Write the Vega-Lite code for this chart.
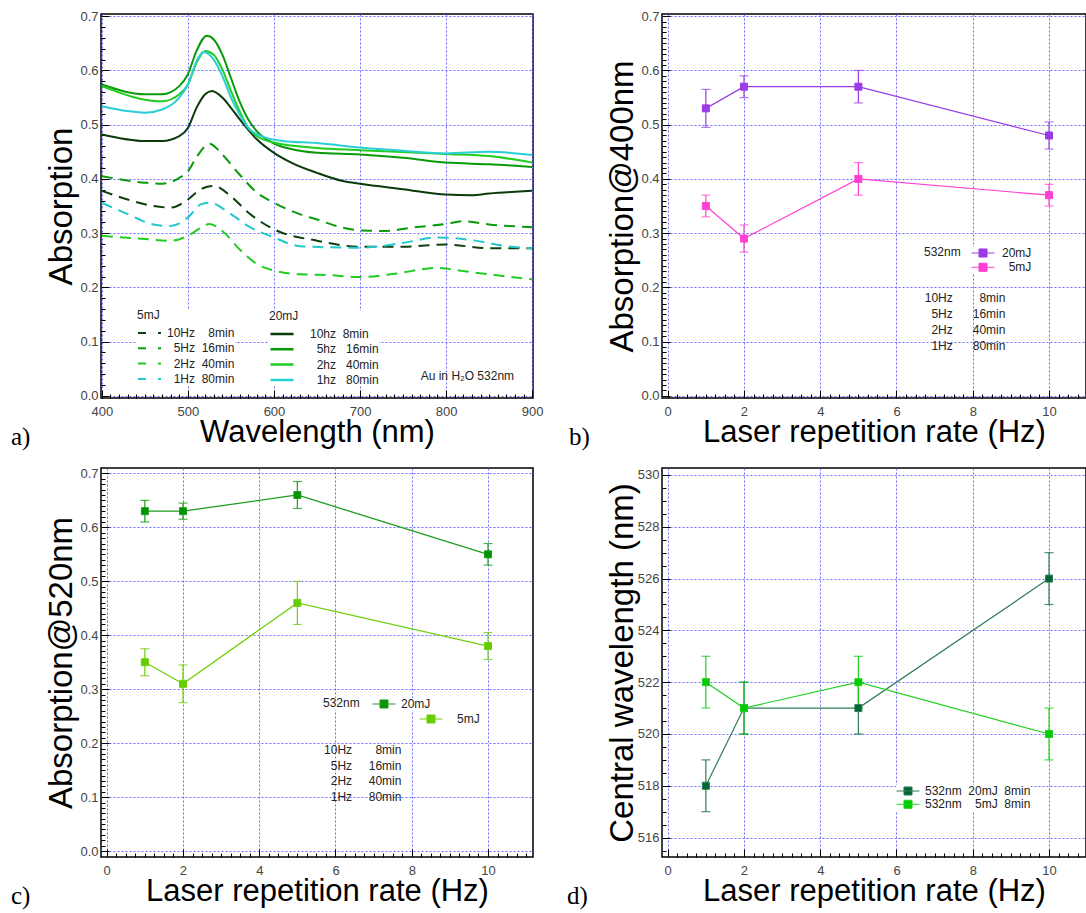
{
"$schema": "https://vega.github.io/schema/vega-lite/v6.json",
"background": "white",
"padding": {"left": 10, "top": 9, "right": 0, "bottom": 0},
"columns": 2,
"spacing": {"row": 70, "column": 129},
"bounds": "flush",
"resolve": {"scale": {"color": "independent", "fill": "independent", "stroke": "independent"}, "legend": {"color": "independent", "fill": "independent", "stroke": "independent"}},
"config": {
  "font": "Liberation Sans",
  "view": {"stroke": "#000", "strokeWidth": 1.5},
  "axis": {"domain": false, "grid": true, "gridColor": "#6b6bff", "gridDash": [2, 2], "gridWidth": 1, "labelFont": "Liberation Sans", "labelFontSize": 13, "labelColor": "#444", "titleFont": "Liberation Sans", "titleFontWeight": "normal", "titleColor": "#000", "tickColor": "#000", "tickWidth": 1, "labelOverlap": false, "labelFlush": false, "labelBound": false, "tickCount": 1000},
  "axisX": {"titleFontSize": 31, "titleBaseline": "alphabetic", "titleY": 43, "labelPadding": 15},
  "axisY": {"titleFontSize": 33, "titleAngle": 270, "titleAlign": "center", "titleBaseline": "middle", "titleX": -40, "labelPadding": 11},
  "legend": {"labelFont": "Liberation Sans", "labelFontSize": 12, "labelColor": "#222", "titleFont": "Liberation Sans", "titleFontSize": 12, "titleFontWeight": "normal", "titleColor": "#222", "padding": 0, "orient": "none"},
  "title": {"font": "Liberation Serif", "fontSize": 25, "fontWeight": "normal", "color": "#000"}
},
"concat": [
{
  "width": 432, "height": 384,
  "title": {"text": "a)", "orient": "bottom", "anchor": "start", "frame": "group", "dx": -90, "offset": -22},
  "data": {"values": [
    {"mJ":5,"rate":"10Hz","nm":400,"abs":0.378},{"mJ":5,"rate":"10Hz","nm":430,"abs":0.362},{"mJ":5,"rate":"10Hz","nm":460,"abs":0.350},{"mJ":5,"rate":"10Hz","nm":480,"abs":0.347},{"mJ":5,"rate":"10Hz","nm":500,"abs":0.362},{"mJ":5,"rate":"10Hz","nm":515,"abs":0.381},{"mJ":5,"rate":"10Hz","nm":530,"abs":0.387},{"mJ":5,"rate":"10Hz","nm":550,"abs":0.368},{"mJ":5,"rate":"10Hz","nm":570,"abs":0.338},{"mJ":5,"rate":"10Hz","nm":600,"abs":0.307},{"mJ":5,"rate":"10Hz","nm":650,"abs":0.286},{"mJ":5,"rate":"10Hz","nm":700,"abs":0.275},{"mJ":5,"rate":"10Hz","nm":750,"abs":0.275},{"mJ":5,"rate":"10Hz","nm":800,"abs":0.279},{"mJ":5,"rate":"10Hz","nm":850,"abs":0.272},{"mJ":5,"rate":"10Hz","nm":900,"abs":0.272},
    {"mJ":5,"rate":"5Hz","nm":400,"abs":0.405},{"mJ":5,"rate":"5Hz","nm":450,"abs":0.393},{"mJ":5,"rate":"5Hz","nm":470,"abs":0.391},{"mJ":5,"rate":"5Hz","nm":490,"abs":0.402},{"mJ":5,"rate":"5Hz","nm":500,"abs":0.414},{"mJ":5,"rate":"5Hz","nm":510,"abs":0.440},{"mJ":5,"rate":"5Hz","nm":525,"abs":0.465},{"mJ":5,"rate":"5Hz","nm":540,"abs":0.445},{"mJ":5,"rate":"5Hz","nm":560,"abs":0.408},{"mJ":5,"rate":"5Hz","nm":580,"abs":0.375},{"mJ":5,"rate":"5Hz","nm":600,"abs":0.356},{"mJ":5,"rate":"5Hz","nm":630,"abs":0.335},{"mJ":5,"rate":"5Hz","nm":650,"abs":0.325},{"mJ":5,"rate":"5Hz","nm":680,"abs":0.310},{"mJ":5,"rate":"5Hz","nm":700,"abs":0.305},{"mJ":5,"rate":"5Hz","nm":730,"abs":0.304},{"mJ":5,"rate":"5Hz","nm":760,"abs":0.310},{"mJ":5,"rate":"5Hz","nm":800,"abs":0.317},{"mJ":5,"rate":"5Hz","nm":820,"abs":0.322},{"mJ":5,"rate":"5Hz","nm":850,"abs":0.316},{"mJ":5,"rate":"5Hz","nm":900,"abs":0.311},
    {"mJ":5,"rate":"2Hz","nm":400,"abs":0.295},{"mJ":5,"rate":"2Hz","nm":450,"abs":0.289},{"mJ":5,"rate":"2Hz","nm":480,"abs":0.286},{"mJ":5,"rate":"2Hz","nm":500,"abs":0.295},{"mJ":5,"rate":"2Hz","nm":515,"abs":0.310},{"mJ":5,"rate":"2Hz","nm":525,"abs":0.317},{"mJ":5,"rate":"2Hz","nm":540,"abs":0.304},{"mJ":5,"rate":"2Hz","nm":560,"abs":0.270},{"mJ":5,"rate":"2Hz","nm":580,"abs":0.243},{"mJ":5,"rate":"2Hz","nm":600,"abs":0.231},{"mJ":5,"rate":"2Hz","nm":630,"abs":0.224},{"mJ":5,"rate":"2Hz","nm":660,"abs":0.223},{"mJ":5,"rate":"2Hz","nm":700,"abs":0.219},{"mJ":5,"rate":"2Hz","nm":740,"abs":0.225},{"mJ":5,"rate":"2Hz","nm":790,"abs":0.236},{"mJ":5,"rate":"2Hz","nm":820,"abs":0.230},{"mJ":5,"rate":"2Hz","nm":850,"abs":0.224},{"mJ":5,"rate":"2Hz","nm":900,"abs":0.215},
    {"mJ":5,"rate":"1Hz","nm":400,"abs":0.356},{"mJ":5,"rate":"1Hz","nm":430,"abs":0.335},{"mJ":5,"rate":"1Hz","nm":460,"abs":0.316},{"mJ":5,"rate":"1Hz","nm":480,"abs":0.313},{"mJ":5,"rate":"1Hz","nm":500,"abs":0.329},{"mJ":5,"rate":"1Hz","nm":515,"abs":0.353},{"mJ":5,"rate":"1Hz","nm":525,"abs":0.356},{"mJ":5,"rate":"1Hz","nm":550,"abs":0.335},{"mJ":5,"rate":"1Hz","nm":570,"abs":0.313},{"mJ":5,"rate":"1Hz","nm":600,"abs":0.292},{"mJ":5,"rate":"1Hz","nm":630,"abs":0.276},{"mJ":5,"rate":"1Hz","nm":700,"abs":0.273},{"mJ":5,"rate":"1Hz","nm":750,"abs":0.282},{"mJ":5,"rate":"1Hz","nm":790,"abs":0.292},{"mJ":5,"rate":"1Hz","nm":830,"abs":0.287},{"mJ":5,"rate":"1Hz","nm":870,"abs":0.276},{"mJ":5,"rate":"1Hz","nm":900,"abs":0.272},
    {"mJ":20,"rate":"10Hz","nm":400,"abs":0.482},{"mJ":20,"rate":"10Hz","nm":450,"abs":0.470},{"mJ":20,"rate":"10Hz","nm":470,"abs":0.470},{"mJ":20,"rate":"10Hz","nm":490,"abs":0.479},{"mJ":20,"rate":"10Hz","nm":500,"abs":0.494},{"mJ":20,"rate":"10Hz","nm":510,"abs":0.531},{"mJ":20,"rate":"10Hz","nm":520,"abs":0.556},{"mJ":20,"rate":"10Hz","nm":528,"abs":0.562},{"mJ":20,"rate":"10Hz","nm":540,"abs":0.550},{"mJ":20,"rate":"10Hz","nm":550,"abs":0.531},{"mJ":20,"rate":"10Hz","nm":560,"abs":0.510},{"mJ":20,"rate":"10Hz","nm":580,"abs":0.473},{"mJ":20,"rate":"10Hz","nm":600,"abs":0.448},{"mJ":20,"rate":"10Hz","nm":620,"abs":0.430},{"mJ":20,"rate":"10Hz","nm":650,"abs":0.411},{"mJ":20,"rate":"10Hz","nm":680,"abs":0.396},{"mJ":20,"rate":"10Hz","nm":700,"abs":0.391},{"mJ":20,"rate":"10Hz","nm":750,"abs":0.381},{"mJ":20,"rate":"10Hz","nm":800,"abs":0.371},{"mJ":20,"rate":"10Hz","nm":830,"abs":0.370},{"mJ":20,"rate":"10Hz","nm":850,"abs":0.373},{"mJ":20,"rate":"10Hz","nm":900,"abs":0.378},
    {"mJ":20,"rate":"5Hz","nm":400,"abs":0.574},{"mJ":20,"rate":"5Hz","nm":450,"abs":0.556},{"mJ":20,"rate":"5Hz","nm":470,"abs":0.556},{"mJ":20,"rate":"5Hz","nm":490,"abs":0.571},{"mJ":20,"rate":"5Hz","nm":500,"abs":0.593},{"mJ":20,"rate":"5Hz","nm":510,"abs":0.636},{"mJ":20,"rate":"5Hz","nm":522,"abs":0.664},{"mJ":20,"rate":"5Hz","nm":530,"abs":0.657},{"mJ":20,"rate":"5Hz","nm":540,"abs":0.629},{"mJ":20,"rate":"5Hz","nm":550,"abs":0.586},{"mJ":20,"rate":"5Hz","nm":560,"abs":0.543},{"mJ":20,"rate":"5Hz","nm":570,"abs":0.510},{"mJ":20,"rate":"5Hz","nm":580,"abs":0.488},{"mJ":20,"rate":"5Hz","nm":600,"abs":0.465},{"mJ":20,"rate":"5Hz","nm":620,"abs":0.455},{"mJ":20,"rate":"5Hz","nm":650,"abs":0.448},{"mJ":20,"rate":"5Hz","nm":700,"abs":0.445},{"mJ":20,"rate":"5Hz","nm":750,"abs":0.439},{"mJ":20,"rate":"5Hz","nm":800,"abs":0.430},{"mJ":20,"rate":"5Hz","nm":850,"abs":0.427},{"mJ":20,"rate":"5Hz","nm":900,"abs":0.422},
    {"mJ":20,"rate":"2Hz","nm":400,"abs":0.571},{"mJ":20,"rate":"2Hz","nm":450,"abs":0.546},{"mJ":20,"rate":"2Hz","nm":470,"abs":0.543},{"mJ":20,"rate":"2Hz","nm":490,"abs":0.556},{"mJ":20,"rate":"2Hz","nm":500,"abs":0.574},{"mJ":20,"rate":"2Hz","nm":510,"abs":0.614},{"mJ":20,"rate":"2Hz","nm":520,"abs":0.636},{"mJ":20,"rate":"2Hz","nm":530,"abs":0.629},{"mJ":20,"rate":"2Hz","nm":540,"abs":0.602},{"mJ":20,"rate":"2Hz","nm":550,"abs":0.562},{"mJ":20,"rate":"2Hz","nm":560,"abs":0.525},{"mJ":20,"rate":"2Hz","nm":570,"abs":0.494},{"mJ":20,"rate":"2Hz","nm":580,"abs":0.479},{"mJ":20,"rate":"2Hz","nm":600,"abs":0.467},{"mJ":20,"rate":"2Hz","nm":650,"abs":0.457},{"mJ":20,"rate":"2Hz","nm":700,"abs":0.453},{"mJ":20,"rate":"2Hz","nm":800,"abs":0.446},{"mJ":20,"rate":"2Hz","nm":850,"abs":0.442},{"mJ":20,"rate":"2Hz","nm":900,"abs":0.430},
    {"mJ":20,"rate":"1Hz","nm":400,"abs":0.534},{"mJ":20,"rate":"1Hz","nm":430,"abs":0.525},{"mJ":20,"rate":"1Hz","nm":450,"abs":0.522},{"mJ":20,"rate":"1Hz","nm":470,"abs":0.528},{"mJ":20,"rate":"1Hz","nm":490,"abs":0.550},{"mJ":20,"rate":"1Hz","nm":500,"abs":0.574},{"mJ":20,"rate":"1Hz","nm":510,"abs":0.617},{"mJ":20,"rate":"1Hz","nm":518,"abs":0.634},{"mJ":20,"rate":"1Hz","nm":530,"abs":0.620},{"mJ":20,"rate":"1Hz","nm":540,"abs":0.590},{"mJ":20,"rate":"1Hz","nm":550,"abs":0.550},{"mJ":20,"rate":"1Hz","nm":560,"abs":0.519},{"mJ":20,"rate":"1Hz","nm":570,"abs":0.494},{"mJ":20,"rate":"1Hz","nm":590,"abs":0.476},{"mJ":20,"rate":"1Hz","nm":610,"abs":0.470},{"mJ":20,"rate":"1Hz","nm":650,"abs":0.466},{"mJ":20,"rate":"1Hz","nm":700,"abs":0.458},{"mJ":20,"rate":"1Hz","nm":750,"abs":0.452},{"mJ":20,"rate":"1Hz","nm":800,"abs":0.447},{"mJ":20,"rate":"1Hz","nm":850,"abs":0.450},{"mJ":20,"rate":"1Hz","nm":900,"abs":0.444}
  ]},
  "layer": [
    {"transform": [{"filter": "datum.mJ == 5"}],
     "mark": {"type": "line", "strokeDash": [11, 7], "strokeWidth": 2, "interpolate": "monotone"},
     "encoding": {
       "x": {"field": "nm", "type": "quantitative", "scale": {"domain": [399, 901], "nice": false, "zero": false},
             "axis": {"title": "Wavelength (nm)", "tickCount": 1000, "values": [400,410,420,430,440,450,460,470,480,490,500,510,520,530,540,550,560,570,580,590,600,610,620,630,640,650,660,670,680,690,700,710,720,730,740,750,760,770,780,790,800,810,820,830,840,850,860,870,880,890,900],
                      "labelExpr": "datum.value % 100 == 0 ? format(datum.value, 'd') : ''",
                      "tickSize": {"condition": {"test": "datum.value % 100 == 0", "value": -8}, "value": -4},
                      "gridOpacity": {"condition": {"test": "datum.value % 100 == 0", "value": 1}, "value": 0}}},
       "y": {"field": "abs", "type": "quantitative", "scale": {"domain": [-0.004, 0.704], "nice": false, "zero": false},
             "axis": {"title": "Absorption", "titleY": 192, "tickCount": 1000, "values": [0,0.02,0.04,0.06,0.08,0.1,0.12,0.14,0.16,0.18,0.2,0.22,0.24,0.26,0.28,0.3,0.32,0.34,0.36,0.38,0.4,0.42,0.44,0.46,0.48,0.5,0.52,0.54,0.56,0.58,0.6,0.62,0.64,0.66,0.68,0.7],
                      "labelExpr": "abs(datum.value*10 - round(datum.value*10)) < 0.001 ? format(datum.value, '.1f') : ''",
                      "tickSize": {"condition": {"test": "abs(datum.value*10 - round(datum.value*10)) < 0.001", "value": -8}, "value": -4},
                      "gridOpacity": {"condition": {"test": "abs(datum.value*10 - round(datum.value*10)) < 0.001", "value": 1}, "value": 0}}},
       "color": {"field": "rate", "type": "nominal", "scale": {"domain": ["10Hz", "5Hz", "2Hz", "1Hz"], "range": ["#0f3f0f", "#0a9a0a", "#22cc22", "#22c8cc"]},
                 "legend": {"title": "5mJ", "legendX": 36, "legendY": 296, "symbolType": "stroke", "symbolSize": 529, "symbolStrokeWidth": 2, "symbolDash": [8, 12], "clipHeight": 12, "rowPadding": 3.3, "titlePadding": 5, "labelOffset": 5, "fillColor": "white",
                            "labelExpr": "datum.label == '10Hz' ? '10Hz\u00a0\u00a0\u00a0\u00a08min' : datum.label == '5Hz' ? '\u200b\u00a0\u00a05Hz\u00a0\u00a016min' : datum.label == '2Hz' ? '\u200b\u00a0\u00a02Hz\u00a0\u00a040min' : '\u200b\u00a0\u00a01Hz\u00a0\u00a080min'"}}
     }},
    {"transform": [{"filter": "datum.mJ == 20"}],
     "mark": {"type": "line", "strokeWidth": 2, "interpolate": "monotone"},
     "encoding": {
       "x": {"field": "nm", "type": "quantitative"},
       "y": {"field": "abs", "type": "quantitative"},
       "color": {"field": "rate", "type": "nominal", "scale": {"domain": ["10Hz", "5Hz", "2Hz", "1Hz"], "range": ["#0b3a0b", "#089a08", "#1fcc1f", "#2acfd6"]},
                 "legend": {"title": "20mJ", "legendX": 168, "legendY": 297, "symbolType": "stroke", "symbolSize": 529, "symbolStrokeWidth": 2.5, "clipHeight": 12, "rowPadding": 3.3, "titlePadding": 5, "labelOffset": 15, "fillColor": "white",
                            "labelExpr": "datum.label == '10Hz' ? '10hz\u00a0\u00a08min' : datum.label == '5Hz' ? '\u200b\u00a0\u00a05hz\u00a0\u00a0\u00a016min' : datum.label == '2Hz' ? '\u200b\u00a0\u00a02hz\u00a0\u00a0\u00a040min' : '\u200b\u00a0\u00a01hz\u00a0\u00a0\u00a080min'"}}
     }},
    {"data": {"values": [{}]},
     "mark": {"type": "text", "text": "Au in H\u2082O 532nm", "align": "right", "baseline": "middle", "font": "Liberation Sans", "fontSize": 12, "color": "#222"},
     "encoding": {"x": {"datum": 879, "type": "quantitative"}, "y": {"datum": 0.0365, "type": "quantitative"}}}
  ],
  "resolve": {"scale": {"color": "independent"}}
},
{
  "width": 424, "height": 384,
  "title": {"text": "b)", "orient": "bottom", "anchor": "start", "frame": "group", "dx": -93, "offset": -22},
  "data": {"values": [
    {"E":"20mJ","Hz":1,"v":0.53,"lo":0.495,"hi":0.565},
    {"E":"20mJ","Hz":2,"v":0.57,"lo":0.55,"hi":0.59},
    {"E":"20mJ","Hz":5,"v":0.57,"lo":0.54,"hi":0.60},
    {"E":"20mJ","Hz":10,"v":0.48,"lo":0.455,"hi":0.505},
    {"E":"5mJ","Hz":1,"v":0.35,"lo":0.33,"hi":0.37},
    {"E":"5mJ","Hz":2,"v":0.29,"lo":0.265,"hi":0.315},
    {"E":"5mJ","Hz":5,"v":0.40,"lo":0.37,"hi":0.43},
    {"E":"5mJ","Hz":10,"v":0.37,"lo":0.35,"hi":0.39}
  ]},
  "layer": [
    {"mark": {"type": "line", "strokeWidth": 1.2},
     "encoding": {
       "x": {"field": "Hz", "type": "quantitative", "scale": {"domain": [-0.15, 10.97], "nice": false, "zero": false},
             "axis": {"title": "Laser repetition rate (Hz)", "tickCount": 1000, "values": [0,0.25,0.5,0.75,1,1.25,1.5,1.75,2,2.25,2.5,2.75,3,3.25,3.5,3.75,4,4.25,4.5,4.75,5,5.25,5.5,5.75,6,6.25,6.5,6.75,7,7.25,7.5,7.75,8,8.25,8.5,8.75,9,9.25,9.5,9.75,10,10.25,10.5,10.75],
                      "labelExpr": "datum.value % 2 == 0 ? format(datum.value, 'd') : ''",
                      "tickSize": {"condition": {"test": "datum.value % 2 == 0", "value": -8}, "value": -4},
                      "gridOpacity": {"condition": {"test": "datum.value % 2 == 0", "value": 1}, "value": 0}}},
       "y": {"field": "v", "type": "quantitative", "scale": {"domain": [-0.004, 0.704], "nice": false, "zero": false},
             "axis": {"title": "Absorption@400nm", "titleY": 192, "tickCount": 1000, "values": [0,0.01,0.02,0.03,0.04,0.05,0.06,0.07,0.08,0.09,0.1,0.11,0.12,0.13,0.14,0.15,0.16,0.17,0.18,0.19,0.2,0.21,0.22,0.23,0.24,0.25,0.26,0.27,0.28,0.29,0.3,0.31,0.32,0.33,0.34,0.35,0.36,0.37,0.38,0.39,0.4,0.41,0.42,0.43,0.44,0.45,0.46,0.47,0.48,0.49,0.5,0.51,0.52,0.53,0.54,0.55,0.56,0.57,0.58,0.59,0.6,0.61,0.62,0.63,0.64,0.65,0.66,0.67,0.68,0.69,0.7],
                      "labelExpr": "abs(datum.value*10 - round(datum.value*10)) < 0.001 ? format(datum.value, '.1f') : ''",
                      "tickSize": {"condition": {"test": "abs(datum.value*10 - round(datum.value*10)) < 0.001", "value": -8}, "value": -4},
                      "gridOpacity": {"condition": {"test": "abs(datum.value*10 - round(datum.value*10)) < 0.001", "value": 1}, "value": 0}}},
       "stroke": {"field": "E", "type": "nominal", "scale": {"domain": ["20mJ", "5mJ"], "range": ["#9a3ce6", "#ff40d0"]}}
     }},
    {"mark": {"type": "rule", "strokeWidth": 1.2},
     "encoding": {"x": {"field": "Hz", "type": "quantitative"}, "y": {"field": "lo", "type": "quantitative"}, "y2": {"field": "hi"},
                  "stroke": {"field": "E", "type": "nominal"}}},
    {"mark": {"type": "tick", "orient": "horizontal", "size": 9, "thickness": 1.2},
     "encoding": {"x": {"field": "Hz", "type": "quantitative"}, "y": {"field": "lo", "type": "quantitative"},
                  "fill": {"field": "E", "type": "nominal", "scale": {"domain": ["20mJ", "5mJ"], "range": ["#9a3ce6", "#ff40d0"]}}}},
    {"mark": {"type": "tick", "orient": "horizontal", "size": 9, "thickness": 1.2},
     "encoding": {"x": {"field": "Hz", "type": "quantitative"}, "y": {"field": "hi", "type": "quantitative"},
                  "fill": {"field": "E", "type": "nominal"}}},
    {"mark": {"type": "point", "shape": "square", "filled": true, "size": 49, "opacity": 1, "strokeWidth": 1},
     "encoding": {"x": {"field": "Hz", "type": "quantitative"}, "y": {"field": "v", "type": "quantitative"},
                  "fill": {"field": "E", "type": "nominal",
                           "legend": {"title": "532nm", "titleOrient": "left", "titleAnchor": "start", "titleBaseline": "top", "titlePadding": 10, "legendX": 262, "legendY": 233, "symbolType": "M-1,0H1M-0.35,-0.35H0.35V0.35H-0.35Z", "symbolSize": 529, "symbolStrokeWidth": 1, "clipHeight": 12, "rowPadding": 2.3, "labelOffset": 7, "fillColor": "white", "labelExpr": "datum.label == '5mJ' ? '\u200b\u00a0\u00a05mJ' : datum.label"}},
                  "stroke": {"field": "E", "type": "nominal",
                           "legend": {"title": "532nm", "titleOrient": "left", "titleAnchor": "start", "titleBaseline": "top", "titlePadding": 10, "legendX": 262, "legendY": 233, "symbolType": "M-1,0H1M-0.35,-0.35H0.35V0.35H-0.35Z", "symbolSize": 529, "symbolStrokeWidth": 1, "clipHeight": 12, "rowPadding": 2.3, "labelOffset": 7, "fillColor": "white", "labelExpr": "datum.label == '5mJ' ? '\u200b\u00a0\u00a05mJ' : datum.label"}}}},
    {"data": {"values": [{}]},
     "mark": {"type": "text", "text": ["10Hz\u00a0\u00a0\u00a0\u00a0\u00a0\u00a0\u00a0\u00a08min", "\u200b\u00a0\u00a05Hz\u00a0\u00a0\u00a0\u00a0\u00a0\u00a016min", "\u200b\u00a0\u00a02Hz\u00a0\u00a0\u00a0\u00a0\u00a0\u00a040min", "\u200b\u00a0\u00a01Hz\u00a0\u00a0\u00a0\u00a0\u00a0\u00a080min"], "align": "left", "baseline": "top", "lineHeight": 16, "font": "Liberation Sans", "fontSize": 12, "color": "#222"},
     "encoding": {"x": {"datum": 6.74, "type": "quantitative"}, "y": {"datum": 0.19, "type": "quantitative"}}}
  ]
},
{
  "width": 432, "height": 389,
  "title": {"text": "c)", "orient": "bottom", "anchor": "start", "frame": "group", "dx": -90, "offset": -22},
  "data": {"values": [
    {"E":"20mJ","Hz":1,"v":0.63,"lo":0.61,"hi":0.65},
    {"E":"20mJ","Hz":2,"v":0.63,"lo":0.615,"hi":0.645},
    {"E":"20mJ","Hz":5,"v":0.66,"lo":0.635,"hi":0.685},
    {"E":"20mJ","Hz":10,"v":0.55,"lo":0.53,"hi":0.57},
    {"E":"5mJ","Hz":1,"v":0.35,"lo":0.325,"hi":0.375},
    {"E":"5mJ","Hz":2,"v":0.31,"lo":0.275,"hi":0.345},
    {"E":"5mJ","Hz":5,"v":0.46,"lo":0.42,"hi":0.50},
    {"E":"5mJ","Hz":10,"v":0.38,"lo":0.355,"hi":0.405}
  ]},
  "layer": [
    {"transform": [{"filter": "datum.E == '20mJ'"}],
     "layer": [
      {"mark": {"type": "line", "strokeWidth": 1.3},
       "encoding": {
         "x": {"field": "Hz", "type": "quantitative", "scale": {"domain": [-0.15, 11.18], "nice": false, "zero": false},
               "axis": {"title": "Laser repetition rate (Hz)", "tickCount": 1000, "values": [0,0.25,0.5,0.75,1,1.25,1.5,1.75,2,2.25,2.5,2.75,3,3.25,3.5,3.75,4,4.25,4.5,4.75,5,5.25,5.5,5.75,6,6.25,6.5,6.75,7,7.25,7.5,7.75,8,8.25,8.5,8.75,9,9.25,9.5,9.75,10,10.25,10.5,10.75,11],
                        "labelExpr": "datum.value % 2 == 0 ? format(datum.value, 'd') : ''",
                        "tickSize": {"condition": {"test": "datum.value % 2 == 0", "value": -8}, "value": -4},
                        "gridOpacity": {"condition": {"test": "datum.value % 2 == 0", "value": 1}, "value": 0}}},
         "y": {"field": "v", "type": "quantitative", "scale": {"domain": [-0.011, 0.71], "nice": false, "zero": false},
               "axis": {"title": "Absorption@520nm", "titleY": 194.5, "tickCount": 1000, "values": [0,0.01,0.02,0.03,0.04,0.05,0.06,0.07,0.08,0.09,0.1,0.11,0.12,0.13,0.14,0.15,0.16,0.17,0.18,0.19,0.2,0.21,0.22,0.23,0.24,0.25,0.26,0.27,0.28,0.29,0.3,0.31,0.32,0.33,0.34,0.35,0.36,0.37,0.38,0.39,0.4,0.41,0.42,0.43,0.44,0.45,0.46,0.47,0.48,0.49,0.5,0.51,0.52,0.53,0.54,0.55,0.56,0.57,0.58,0.59,0.6,0.61,0.62,0.63,0.64,0.65,0.66,0.67,0.68,0.69,0.7],
                        "labelExpr": "abs(datum.value*10 - round(datum.value*10)) < 0.001 ? format(datum.value, '.1f') : ''",
                        "tickSize": {"condition": {"test": "abs(datum.value*10 - round(datum.value*10)) < 0.001", "value": -8}, "value": -4},
                        "gridOpacity": {"condition": {"test": "abs(datum.value*10 - round(datum.value*10)) < 0.001", "value": 1}, "value": 0}}},
         "stroke": {"field": "E", "type": "nominal", "scale": {"domain": ["20mJ"], "range": ["#1f9c1f"]}}
       }},
      {"mark": {"type": "rule", "strokeWidth": 1.2},
       "encoding": {"x": {"field": "Hz", "type": "quantitative"}, "y": {"field": "lo", "type": "quantitative"}, "y2": {"field": "hi"},
                    "stroke": {"field": "E", "type": "nominal"}}},
      {"mark": {"type": "tick", "orient": "horizontal", "size": 9, "thickness": 1.2},
       "encoding": {"x": {"field": "Hz", "type": "quantitative"}, "y": {"field": "lo", "type": "quantitative"},
                    "fill": {"field": "E", "type": "nominal", "scale": {"domain": ["20mJ"], "range": ["#009400"]}}}},
      {"mark": {"type": "tick", "orient": "horizontal", "size": 9, "thickness": 1.2},
       "encoding": {"x": {"field": "Hz", "type": "quantitative"}, "y": {"field": "hi", "type": "quantitative"},
                    "fill": {"field": "E", "type": "nominal"}}},
      {"mark": {"type": "point", "shape": "square", "filled": true, "size": 49, "opacity": 1, "strokeWidth": 1},
       "encoding": {"x": {"field": "Hz", "type": "quantitative"}, "y": {"field": "v", "type": "quantitative"},
                    "fill": {"field": "E", "type": "nominal",
                             "legend": {"title": "532nm", "titleOrient": "left", "titleAnchor": "start", "titleBaseline": "top", "titlePadding": 12, "legendX": 222, "legendY": 230, "symbolType": "M-1,0H1M-0.35,-0.35H0.35V0.35H-0.35Z", "symbolSize": 529, "symbolStrokeWidth": 1, "clipHeight": 12, "labelOffset": 5, "fillColor": "white"}},
                    "stroke": {"field": "E", "type": "nominal",
                             "legend": {"title": "532nm", "titleOrient": "left", "titleAnchor": "start", "titleBaseline": "top", "titlePadding": 12, "legendX": 222, "legendY": 230, "symbolType": "M-1,0H1M-0.35,-0.35H0.35V0.35H-0.35Z", "symbolSize": 529, "symbolStrokeWidth": 1, "clipHeight": 12, "labelOffset": 5, "fillColor": "white"}}}}
     ]},
    {"transform": [{"filter": "datum.E == '5mJ'"}],
     "layer": [
      {"mark": {"type": "line", "strokeWidth": 1.3},
       "encoding": {"x": {"field": "Hz", "type": "quantitative"}, "y": {"field": "v", "type": "quantitative"},
         "stroke": {"field": "E", "type": "nominal", "scale": {"domain": ["5mJ"], "range": ["#6fd00f"]}}}},
      {"mark": {"type": "rule", "strokeWidth": 1.2},
       "encoding": {"x": {"field": "Hz", "type": "quantitative"}, "y": {"field": "lo", "type": "quantitative"}, "y2": {"field": "hi"},
                    "stroke": {"field": "E", "type": "nominal"}}},
      {"mark": {"type": "tick", "orient": "horizontal", "size": 9, "thickness": 1.2},
       "encoding": {"x": {"field": "Hz", "type": "quantitative"}, "y": {"field": "lo", "type": "quantitative"},
                    "fill": {"field": "E", "type": "nominal", "scale": {"domain": ["5mJ"], "range": ["#66cc00"]}}}},
      {"mark": {"type": "tick", "orient": "horizontal", "size": 9, "thickness": 1.2},
       "encoding": {"x": {"field": "Hz", "type": "quantitative"}, "y": {"field": "hi", "type": "quantitative"},
                    "fill": {"field": "E", "type": "nominal"}}},
      {"mark": {"type": "point", "shape": "square", "filled": true, "size": 49, "opacity": 1, "strokeWidth": 1},
       "encoding": {"x": {"field": "Hz", "type": "quantitative"}, "y": {"field": "v", "type": "quantitative"},
                    "fill": {"field": "E", "type": "nominal",
                             "legend": {"title": null, "legendX": 318, "legendY": 245, "symbolType": "M-1,0H1M-0.35,-0.35H0.35V0.35H-0.35Z", "symbolSize": 529, "symbolStrokeWidth": 1, "clipHeight": 12, "labelOffset": 14, "fillColor": "white"}},
                    "stroke": {"field": "E", "type": "nominal",
                             "legend": {"title": null, "legendX": 318, "legendY": 245, "symbolType": "M-1,0H1M-0.35,-0.35H0.35V0.35H-0.35Z", "symbolSize": 529, "symbolStrokeWidth": 1, "clipHeight": 12, "labelOffset": 14, "fillColor": "white"}}}}
     ]},
    {"data": {"values": [{}]},
     "mark": {"type": "text", "text": ["10Hz\u00a0\u00a0\u00a0\u00a0\u00a0\u00a0\u00a08min", "\u200b\u00a0\u00a05Hz\u00a0\u00a0\u00a0\u00a0\u00a016min", "\u200b\u00a0\u00a02Hz\u00a0\u00a0\u00a0\u00a0\u00a040min", "\u200b\u00a0\u00a01Hz\u00a0\u00a0\u00a0\u00a0\u00a080min"], "align": "left", "baseline": "top", "lineHeight": 15.7, "font": "Liberation Sans", "fontSize": 12, "color": "#222"},
     "encoding": {"x": {"datum": 5.7, "type": "quantitative"}, "y": {"datum": 0.1966, "type": "quantitative"}}}
  ],
  "resolve": {"scale": {"stroke": "independent", "fill": "independent"}}
},
{
  "width": 424, "height": 389,
  "title": {"text": "d)", "orient": "bottom", "anchor": "start", "frame": "group", "dx": -95, "offset": -22},
  "data": {"values": [
    {"E":"20mJ","Hz":1,"v":518,"lo":517,"hi":519},
    {"E":"20mJ","Hz":2,"v":521,"lo":520,"hi":522},
    {"E":"20mJ","Hz":5,"v":521,"lo":520,"hi":522},
    {"E":"20mJ","Hz":10,"v":526,"lo":525,"hi":527},
    {"E":"5mJ","Hz":1,"v":522,"lo":521,"hi":523},
    {"E":"5mJ","Hz":2,"v":521,"lo":520,"hi":522},
    {"E":"5mJ","Hz":5,"v":522,"lo":521,"hi":523},
    {"E":"5mJ","Hz":10,"v":520,"lo":519,"hi":521}
  ]},
  "layer": [
    {"mark": {"type": "line", "strokeWidth": 1.2},
     "encoding": {
       "x": {"field": "Hz", "type": "quantitative", "scale": {"domain": [-0.15, 10.97], "nice": false, "zero": false},
             "axis": {"title": "Laser repetition rate (Hz)", "tickCount": 1000, "values": [0,0.25,0.5,0.75,1,1.25,1.5,1.75,2,2.25,2.5,2.75,3,3.25,3.5,3.75,4,4.25,4.5,4.75,5,5.25,5.5,5.75,6,6.25,6.5,6.75,7,7.25,7.5,7.75,8,8.25,8.5,8.75,9,9.25,9.5,9.75,10,10.25,10.5,10.75],
                      "labelExpr": "datum.value % 2 == 0 ? format(datum.value, 'd') : ''",
                      "tickSize": {"condition": {"test": "datum.value % 2 == 0", "value": -8}, "value": -4},
                      "gridOpacity": {"condition": {"test": "datum.value % 2 == 0", "value": 1}, "value": 0}}},
       "y": {"field": "v", "type": "quantitative", "scale": {"domain": [515.25, 530.27], "nice": false, "zero": false},
             "axis": {"title": "Central wavelength (nm)", "titleY": 194.5, "tickCount": 1000, "values": [515.5,516,516.5,517,517.5,518,518.5,519,519.5,520,520.5,521,521.5,522,522.5,523,523.5,524,524.5,525,525.5,526,526.5,527,527.5,528,528.5,529,529.5,530],
                      "labelExpr": "datum.value % 2 == 0 ? format(datum.value, 'd') : ''",
                      "tickSize": {"condition": {"test": "datum.value % 2 == 0", "value": -8}, "value": -4},
                      "gridOpacity": {"condition": {"test": "datum.value % 2 == 0", "value": 1}, "value": 0}}},
       "stroke": {"field": "E", "type": "nominal", "scale": {"domain": ["20mJ", "5mJ"], "range": ["#2e7d55", "#22d022"]}}
     }},
    {"mark": {"type": "rule", "strokeWidth": 1.2},
     "encoding": {"x": {"field": "Hz", "type": "quantitative"}, "y": {"field": "lo", "type": "quantitative"}, "y2": {"field": "hi"},
                  "stroke": {"field": "E", "type": "nominal"}}},
    {"mark": {"type": "tick", "orient": "horizontal", "size": 9, "thickness": 1.2},
     "encoding": {"x": {"field": "Hz", "type": "quantitative"}, "y": {"field": "lo", "type": "quantitative"},
                  "fill": {"field": "E", "type": "nominal", "scale": {"domain": ["20mJ", "5mJ"], "range": ["#006633", "#00cc00"]}}}},
    {"mark": {"type": "tick", "orient": "horizontal", "size": 9, "thickness": 1.2},
     "encoding": {"x": {"field": "Hz", "type": "quantitative"}, "y": {"field": "hi", "type": "quantitative"},
                  "fill": {"field": "E", "type": "nominal"}}},
    {"mark": {"type": "point", "shape": "square", "filled": true, "size": 49, "opacity": 1, "strokeWidth": 1},
     "encoding": {"x": {"field": "Hz", "type": "quantitative"}, "y": {"field": "v", "type": "quantitative"},
                  "fill": {"field": "E", "type": "nominal",
                           "legend": {"title": null, "legendX": 234, "legendY": 317, "symbolType": "M-1,0H1M-0.35,-0.35H0.35V0.35H-0.35Z", "symbolSize": 529, "symbolStrokeWidth": 1, "clipHeight": 12, "rowPadding": 1.3, "labelOffset": 5, "fillColor": "white",
                                      "labelExpr": "datum.label == '20mJ' ? '532nm\u00a0\u00a020mJ\u00a0\u00a08min' : '532nm\u00a0\u00a0\u00a0\u00a05mJ\u00a0\u00a08min'"}},
                  "stroke": {"field": "E", "type": "nominal",
                           "legend": {"title": null, "legendX": 234, "legendY": 317, "symbolType": "M-1,0H1M-0.35,-0.35H0.35V0.35H-0.35Z", "symbolSize": 529, "symbolStrokeWidth": 1, "clipHeight": 12, "rowPadding": 1.3, "labelOffset": 5, "fillColor": "white",
                                      "labelExpr": "datum.label == '20mJ' ? '532nm\u00a0\u00a020mJ\u00a0\u00a08min' : '532nm\u00a0\u00a0\u00a0\u00a05mJ\u00a0\u00a08min'"}}}}
  ]
}
]
}
